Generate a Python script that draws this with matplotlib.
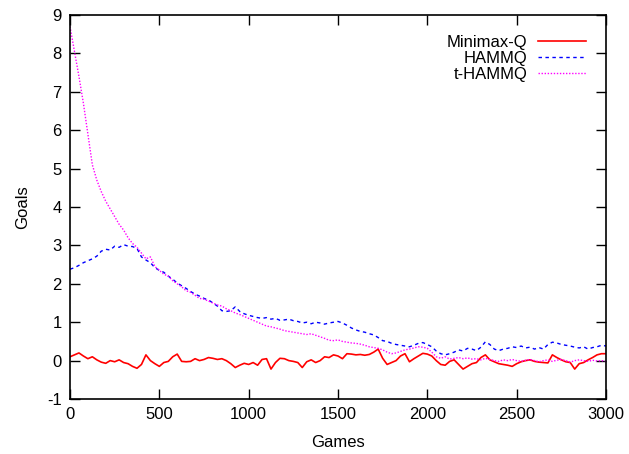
import matplotlib
matplotlib.use('Agg')
import matplotlib.pyplot as plt

plt.rcParams['font.family'] = ['Liberation Sans', 'DejaVu Sans']
plt.rcParams['axes.unicode_minus'] = False

# games sampled every 25
games = list(range(0, 3001, 25))

minimax_q = [
    0.10, 0.15, 0.20, 0.12, 0.05, 0.10, 0.02, -0.04, -0.07, 0.00,
    -0.03, 0.02, -0.05, -0.08, -0.15, -0.20, -0.10, 0.15, 0.00, -0.08,
    -0.15, -0.05, -0.02, 0.10, 0.17, -0.02, -0.03, -0.02, 0.05, 0.00,
    0.03, 0.08, 0.06, 0.03, 0.05, 0.00, -0.08, -0.18, -0.12, -0.07,
    -0.10, -0.05, -0.12, 0.03, 0.05, -0.22, -0.05, 0.06, 0.05, 0.00,
    -0.02, -0.05, -0.18, -0.03, 0.02, -0.05, 0.00, 0.10, 0.08, 0.15,
    0.12, 0.05, 0.18, 0.17, 0.15, 0.16, 0.14, 0.16, 0.22, 0.30,
    0.06, -0.10, -0.05, 0.00, 0.12, 0.18, -0.03, 0.05, 0.12, 0.19,
    0.17, 0.12, 0.00, -0.10, -0.12, -0.02, 0.02, -0.10, -0.22, -0.15,
    -0.08, -0.05, 0.08, 0.15, 0.02, -0.03, -0.08, -0.10, -0.12, -0.15,
    -0.08, -0.03, 0.00, 0.02, -0.02, -0.04, -0.05, -0.06, 0.15, 0.08,
    0.02, -0.03, -0.05, -0.22, -0.08, -0.05, 0.02, 0.08, 0.15, 0.18,
    0.18,
]

hammq = [
    2.38, 2.42, 2.48, 2.55, 2.60, 2.65, 2.72, 2.85, 2.90, 2.88,
    2.98, 2.95, 3.02, 2.98, 2.97, 2.92, 2.70, 2.62, 2.55, 2.42,
    2.35, 2.30, 2.20, 2.12, 2.02, 1.95, 1.88, 1.80, 1.73, 1.68,
    1.62, 1.58, 1.50, 1.42, 1.30, 1.28, 1.30, 1.40, 1.28, 1.22,
    1.18, 1.15, 1.12, 1.10, 1.12, 1.08, 1.10, 1.05, 1.06, 1.08,
    1.04, 1.02, 0.98, 1.00, 0.96, 1.00, 0.98, 0.95, 0.98, 1.00,
    1.02, 0.98, 0.92, 0.85, 0.80, 0.76, 0.74, 0.70, 0.67, 0.60,
    0.52, 0.50, 0.45, 0.42, 0.40, 0.38, 0.36, 0.40, 0.45, 0.47,
    0.42, 0.36, 0.25, 0.18, 0.15, 0.18, 0.22, 0.28, 0.25, 0.32,
    0.30, 0.26, 0.35, 0.49, 0.42, 0.30, 0.26, 0.30, 0.32, 0.36,
    0.34, 0.38, 0.33, 0.35, 0.30, 0.34, 0.30, 0.42, 0.48, 0.46,
    0.42, 0.40, 0.38, 0.35, 0.33, 0.36, 0.30, 0.34, 0.36, 0.40,
    0.38,
]

t_hammq = [
    8.70, 8.05, 7.40, 6.70, 5.90, 5.10, 4.70, 4.40, 4.15, 3.95,
    3.75, 3.55, 3.40, 3.20, 3.05, 2.95, 2.80, 2.65, 2.70, 2.45,
    2.35, 2.25, 2.20, 2.08, 2.00, 1.92, 1.82, 1.78, 1.70, 1.62,
    1.60, 1.55, 1.50, 1.45, 1.42, 1.35, 1.30, 1.24, 1.20, 1.15,
    1.10, 1.05, 1.00, 0.95, 0.90, 0.88, 0.85, 0.82, 0.78, 0.76,
    0.74, 0.72, 0.70, 0.68, 0.70, 0.66, 0.62, 0.58, 0.53, 0.52,
    0.54, 0.50, 0.48, 0.46, 0.45, 0.43, 0.40, 0.36, 0.34, 0.32,
    0.28, 0.22, 0.18, 0.20, 0.24, 0.28, 0.30, 0.33, 0.36, 0.35,
    0.32, 0.22, 0.10, 0.06, 0.10, 0.04, 0.06, 0.08, 0.05, 0.07,
    0.04, 0.05, 0.02, 0.06, 0.03, 0.00, -0.02, 0.02, 0.00, 0.03,
    0.00, -0.02, 0.01, 0.03, 0.00, -0.03, 0.00, 0.02, -0.02, 0.01,
    0.03, 0.00, -0.04, 0.00, 0.02, 0.00, -0.02, 0.01, -0.01, 0.00,
    -0.02,
]

fig = plt.figure(figsize=(6.29, 4.54), dpi=100)
ax = fig.add_axes([0.1113, 0.1211, 0.8521, 0.8459])

ax.plot(games, minimax_q, color='#ff0000', lw=1.2, label='Minimax-Q')
ax.plot(games, hammq, color='#0000ff', lw=1.0, ls=(0, (2.5, 2.5)), label='HAMMQ')
ax.plot(games, t_hammq, color='#ff00ff', lw=1.0, ls=(0, (1, 1.2)), label='t-HAMMQ')

ax.set_xlim(0, 3000)
ax.set_ylim(-1, 9)
ax.set_xticks(range(0, 3001, 500))
ax.set_yticks(range(-1, 10))
ax.tick_params(direction='in', top=True, right=True, length=7, width=1,
               labelsize=12, pad=6)
for s in ax.spines.values():
    s.set_linewidth(1.2)

ax.set_xlabel('Games', fontsize=12, labelpad=9)
ax.set_ylabel('Goals', fontsize=12, labelpad=12)

ax.legend(loc='upper right', frameon=False, markerfirst=False, fontsize=12,
          handlelength=2.9, labelspacing=0.05, borderaxespad=0.8,
          handletextpad=0.6)

fig.savefig('out.png', dpi=100)
